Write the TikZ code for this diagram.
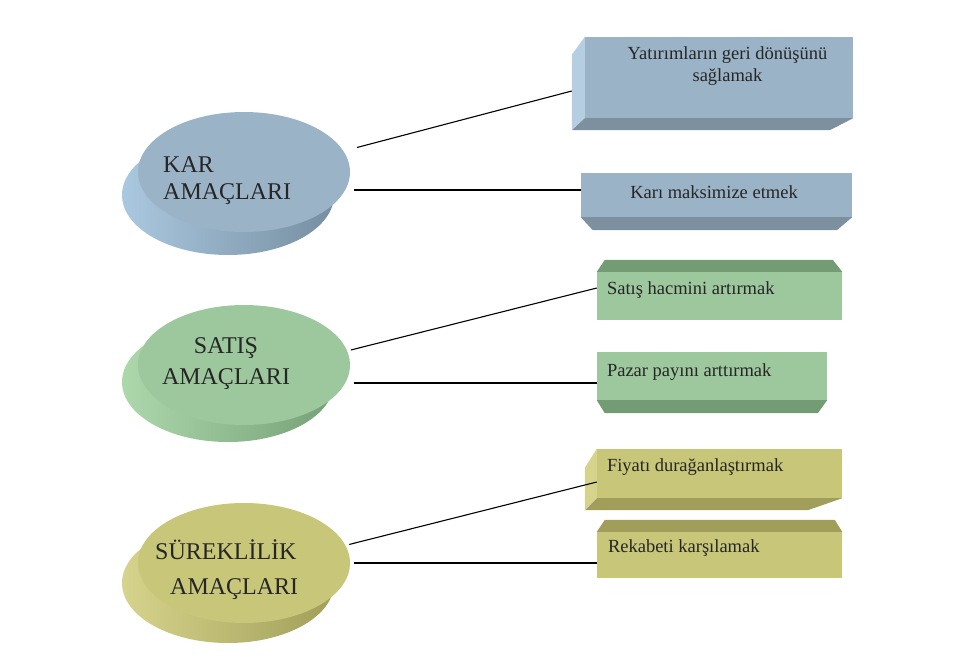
\documentclass[tikz,border=0pt]{standalone}
\usepackage{fontspec}
\setmainfont{Liberation Serif}
\usetikzlibrary{shapes,positioning,calc}
\definecolor{karfront}{RGB}{155,179,198}
\definecolor{karlight}{RGB}{170,200,224}
\definecolor{kardark}{RGB}{118,142,160}
\definecolor{satfront}{RGB}{157,199,157}
\definecolor{satlight}{RGB}{172,216,172}
\definecolor{satdark}{RGB}{118,160,118}
\definecolor{surfront}{RGB}{200,198,120}
\definecolor{surlight}{RGB}{214,212,140}
\definecolor{surdark}{RGB}{160,158,88}
\definecolor{kbside}{RGB}{182,206,226}
\definecolor{kbdark}{RGB}{124,144,160}
\definecolor{sbdark}{RGB}{116,156,116}
\definecolor{obside}{RGB}{214,212,140}
\definecolor{obdark}{RGB}{160,158,90}
\tikzstyle{disc}=[ellipse,minimum width=212pt,minimum height=120pt,inner sep=0pt,outer sep=4pt]
\tikzstyle{face}=[rectangle,inner sep=0pt]
\tikzstyle{bigtxt}=[font=\fontsize{24}{27}\selectfont,inner sep=0pt,text=black!85]
\tikzstyle{boxtxt}=[font=\fontsize{18.5}{22}\selectfont,inner sep=0pt,text=black!85]
\tikzstyle{link}=[black,line width=1.1pt]

\begin{document}
\begin{tikzpicture}[x=1pt,y=-1pt]
  \useasboundingbox (0,0) rectangle (960,663);

  % discs on the left
  \shade[left color=karlight,right color=kardark] (228,195) ellipse (106 and 60);
  \node[disc,fill=karfront] (kar) at (244,172) {};
  \node[bigtxt,align=left,anchor=west] (kartxt) at ([shift={(-81pt,-9pt)}]kar.center) {KAR\\AMAÇLARI};

  \shade[left color=satlight,right color=satdark] (228,382) ellipse (106 and 60);
  \node[disc,fill=satfront] (sat) at (244,365) {};
  \node[bigtxt,align=center,font=\fontsize{24}{31}\selectfont] (sattxt) at ([shift={(-18pt,1pt)}]sat.center) {SATIŞ\\AMAÇLARI};

  \shade[left color=surlight,right color=surdark] (228,583) ellipse (106 and 60);
  \node[disc,fill=surfront] (sur) at (244,563) {};
  \node[bigtxt,align=left,anchor=west,font=\fontsize{24}{35}\selectfont] (surtxt) at ([shift={(-89pt,-6.5pt)}]sur.center) {SÜREKLİLİK\\\hspace*{15pt}AMAÇLARI};

  % boxes on the right
  \node[face,fill=karfront,minimum width=268pt,minimum height=81pt] (b1) at (719,77.5) {};
  \fill[kbside] (b1.north west) -- ++(-13,18) -- ++(0,75) -- (b1.south west) -- cycle;
  \fill[kbdark] (b1.south west) -- ++(-13,12) -- ++(258,0) -- (b1.south east) -- cycle;
  \node[boxtxt,align=center] (t1) at ([shift={(8.5pt,11.5pt)}]b1.center) {Yatırımların geri dönüşünü\\sağlamak};

  \node[face,fill=karfront,minimum width=271pt,minimum height=44pt] (b2) at (716.5,195) {};
  \fill[kbdark] (b2.south west) -- ++(12,13) -- ++(244,0) -- (b2.south east) -- cycle;
  \node[boxtxt] (t2) at ([shift={(-2.5pt,3pt)}]b2.center) {Karı maksimize etmek};

  \node[face,fill=satfront,minimum width=245pt,minimum height=48pt] (b3) at (719.5,296) {};
  \fill[sbdark] (b3.north west) -- ++(8,-12) -- ++(228,0) -- (b3.north east) -- cycle;
  \node[boxtxt,anchor=west] (t3) at ([shift={(10pt,6pt)}]b3.west) {Satış hacmini artırmak};

  \node[face,fill=satfront,minimum width=230pt,minimum height=48pt] (b4) at (712,376) {};
  \fill[sbdark] (b4.south west) -- ++(8,13) -- ++(213,0) -- (b4.south east) -- cycle;
  \node[boxtxt,anchor=west] (t4) at ([shift={(10pt,4pt)}]b4.west) {Pazar payını arttırmak};

  \node[face,fill=surfront,minimum width=245pt,minimum height=49pt] (b5) at (719.5,473.5) {};
  \fill[obside] (b5.north west) -- ++(-12,19) -- ++(0,42) -- (b5.south west) -- cycle;
  \fill[obdark] (b5.south west) -- ++(-12,12) -- ++(223,0) -- (b5.south east) -- cycle;
  \node[boxtxt,anchor=west] (t5) at ([shift={(10pt,6.5pt)}]b5.west) {Fiyatı durağanlaştırmak};

  \node[face,fill=surfront,minimum width=245pt,minimum height=46pt] (b6) at (719.5,555) {};
  \fill[obdark] (b6.north west) -- ++(8,-12) -- ++(230,0) -- (b6.north east) -- cycle;
  \node[boxtxt,anchor=west] (t6) at ([shift={(11pt,7pt)}]b6.west) {Rekabeti karşılamak};

  % connectors
  \coordinate (p1) at ([shift={(-13pt,-13.5pt)}]b1.west);
  \coordinate (p2) at ([yshift=5pt]b2.west);
  \coordinate (p3) at ([yshift=8pt]b3.west);
  \coordinate (p4) at ([yshift=-7pt]b4.west);
  \coordinate (p5) at ([yshift=-8.5pt]b5.west);
  \coordinate (p6) at ([yshift=-8pt]b6.west);
  \draw[link,shorten <=10pt] (kar.12) -- (p1);
  \draw[link] (kar.east |- p2) -- (p2);
  \draw[link] (sat.8) -- (p3);
  \draw[link] (sat.east |- p4) -- (p4);
  \draw[link] (sur.10) -- (p5);
  \draw[link] (sur.east |- p6) -- (p6);
\end{tikzpicture}
\end{document}
